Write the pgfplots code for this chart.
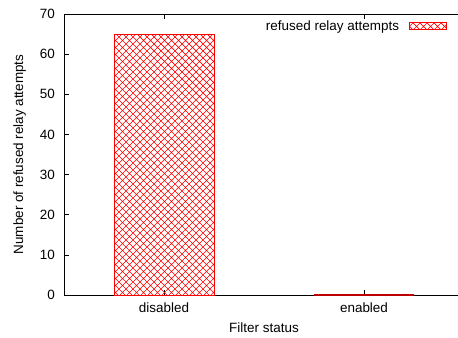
\documentclass[border=0pt]{standalone}
\usepackage{pgfplots}
\pgfplotsset{compat=1.18}
\usepackage{fontspec}
\setmainfont{Liberation Sans}
\usetikzlibrary{patterns}
\pgfdeclarepatternformonly{diagcross}{\pgfqpoint{-1bp}{-1bp}}{\pgfqpoint{8bp}{8bp}}{\pgfqpoint{7bp}{7bp}}{%
  \pgfsetlinewidth{0.7bp}%
  \pgfpathmoveto{\pgfqpoint{0bp}{0bp}}\pgfpathlineto{\pgfqpoint{7bp}{7bp}}%
  \pgfpathmoveto{\pgfqpoint{0bp}{7bp}}\pgfpathlineto{\pgfqpoint{7bp}{0bp}}%
  \pgfusepath{stroke}}
\begin{document}
\begin{tikzpicture}
\begin{axis}[
  at={(0,0)}, anchor=south west,
  scale only axis,
  width=400bp, height=281bp,
  font=\fontsize{13.5}{15}\selectfont,
  /pgf/number format/assume math mode=true,
  xmin=-0.5, xmax=1.5, ymin=0, ymax=70,
  xtick={0,1}, xticklabels={disabled,enabled},
  ytick={0,10,...,70},
  tick align=inside,
  major tick length=4.5bp,
  tick style={black, line width=0.6bp},
  axis line style={line width=0.9bp},
  set layers, clip=false,
  yticklabel style={inner sep=0pt, anchor=east, xshift=-9bp},
  xticklabel style={inner sep=0pt, anchor=base, yshift=-17.5bp},
  xlabel={Filter status},
  ylabel={Number of refused relay attempts},
  every axis x label/.style={at={(axis description cs:0.5,-0.1352)}, anchor=base},
  every axis y label/.style={at={(axis description cs:-0.1025,0.5)}, anchor=base, rotate=90},
  legend style={at={(axis description cs:0.9575,0.985)}, anchor=north east, draw=none, fill=none, inner sep=0pt, legend cell align=right},
  legend plot pos=right,
  legend image code/.code={\path (0bp,0bp); \draw[pattern=diagcross, pattern color=red, draw=red, line width=0.8bp] (8bp,-3.5bp) rectangle (45bp,3.5bp);},
]
\addplot[ybar, bar width=0.5, draw=red, line width=0.8bp, pattern=diagcross, pattern color=red] coordinates {(0,65) (1,0)};
\addlegendentry{refused relay attempts}
\addplot[red!75!black, line width=1.2bp, on layer=axis foreground, forget plot] coordinates {(0.75,0) (1.25,0)};
\end{axis}
\pgfresetboundingbox
\path[use as bounding box] (-64bp,-43bp) rectangle (394bp,295bp);
\end{tikzpicture}
\end{document}
